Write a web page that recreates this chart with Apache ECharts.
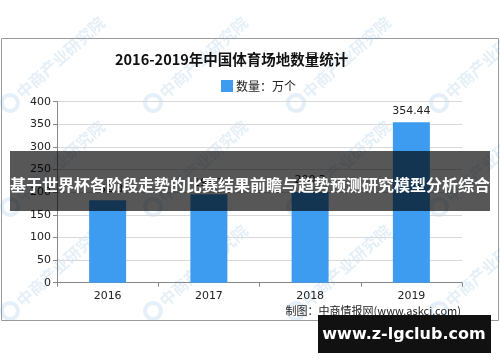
<!DOCTYPE html>
<html>
<head>
<meta charset="utf-8">
<script src="https://cdn.jsdelivr.net/npm/echarts@6/dist/echarts.min.js"></script>
<style>
html,body{margin:0;padding:0;background:#fff;}
#c{width:500px;height:362px;}
</style>
</head>
<body>
<div id="c"></div>
<script>
const categories = ['2016', '2017', '2018', '2019'];
const seriesName = '数量：万个';
const values = [182.3, 195.7, 200.3, 354.44];
const yTicks = [0, 50, 100, 150, 200, 250, 300, 350, 400];
const titleText = '2016-2019年中国体育场地数量统计';
const sourceText = '制图：中商情报网(www.askci.com)';
const bannerText = '基于世界杯各阶段走势的比赛结果前瞻与趋势预测研究模型分析综合';
const siteText = 'www.z-lgclub.com';
const watermarkText = '中商产业研究院';

const chart = echarts.init(document.getElementById('c'), null, {renderer: 'canvas'});

const wmX = [10, 153, 296, 439];
const wmY = [103, 207, 311];
const watermarks = [];
wmY.forEach(function (y) {
  wmX.forEach(function (x) {
    watermarks.push({
      type: 'group', x: x, y: y, rotation: Math.PI * 42 / 180, z: 50, silent: true,
      children: [
        {type: 'circle', shape: {cx: 0, cy: 0, r: 8}, style: {fill: 'none', stroke: 'rgba(120,175,220,0.2)', lineWidth: 4}},
        {type: 'text', x: 12, y: 0, style: {text: watermarkText, fill: 'rgba(120,175,220,0.2)', font: 'bold 16px "Noto Sans CJK SC"', textVerticalAlign: 'middle'}}
      ]
    });
  });
});

chart.setOption({
  animation: false,
  backgroundColor: '#fff',
  title: {
    text: titleText,
    left: 110, top: 47,
    textStyle: {fontFamily: '"Noto Sans CJK SC"', fontSize: 14.5, fontWeight: 'bold', color: '#111'}
  },
  legend: {
    data: [seriesName],
    left: 216, top: 75,
    itemWidth: 12, itemHeight: 12, itemGap: 4,
    icon: 'rect',
    textStyle: {fontFamily: '"Noto Sans CJK SC"', fontSize: 12, color: '#222', padding: [0, 0, 0, -2]}
  },
  grid: {left: 57, right: 38, top: 101.7, bottom: 79.3, containLabel: false},
  xAxis: {
    type: 'category',
    data: categories,
    boundaryGap: true,
    axisLine: {lineStyle: {color: '#888', width: 1}},
    axisTick: {show: true, length: 4, lineStyle: {color: '#888'}, alignWithLabel: false},
    axisLabel: {margin: 8, fontFamily: '"DejaVu Sans"', fontSize: 11, color: '#222'}
  },
  yAxis: {
    type: 'value',
    min: yTicks[0], max: yTicks[yTicks.length - 1], interval: yTicks[1] - yTicks[0],
    axisLine: {show: true, lineStyle: {color: '#888'}},
    axisTick: {show: true, length: 4, lineStyle: {color: '#888'}},
    axisLabel: {margin: 6, fontFamily: '"DejaVu Sans"', fontSize: 11, color: '#222'},
    splitLine: {lineStyle: {color: '#d9d9d9'}}
  },
  series: [{
    name: seriesName,
    type: 'bar',
    data: values,
    barWidth: 37,
    itemStyle: {color: '#3d9cef'},
    label: {show: true, position: 'top', distance: 6, fontFamily: '"DejaVu Sans"', fontSize: 11, color: '#222'}
  }],
  graphic: [
    {type: 'rect', z: -10, shape: {x: 1.5, y: 38.5, width: 497, height: 282}, style: {fill: '#fff', stroke: '#9a9a9a', lineWidth: 1}},
    {type: 'text', z: 10, x: 461, y: 311, style: {text: sourceText, fill: '#222', font: '11px "Noto Sans CJK SC"', textAlign: 'right', textVerticalAlign: 'middle'}}
  ].concat(watermarks).concat([
    {type: 'rect', z: 100, shape: {x: 10, y: 151, width: 480, height: 60}, style: {fill: 'rgba(0,0,0,0.66)'}},
    {type: 'text', z: 101, x: 250, y: 185, style: {text: bannerText, fill: '#fff', font: 'bold 16px "Noto Sans CJK SC"', textAlign: 'center', textVerticalAlign: 'middle'}},
    {type: 'rect', z: 100, shape: {x: 318, y: 315, width: 173, height: 38}, style: {fill: '#111'}},
    {type: 'text', z: 101, x: 404, y: 335, style: {text: siteText, fill: '#fff', font: 'bold 16px "DejaVu Sans"', textAlign: 'center', textVerticalAlign: 'middle'}}
  ])
});
</script>
</body>
</html>
